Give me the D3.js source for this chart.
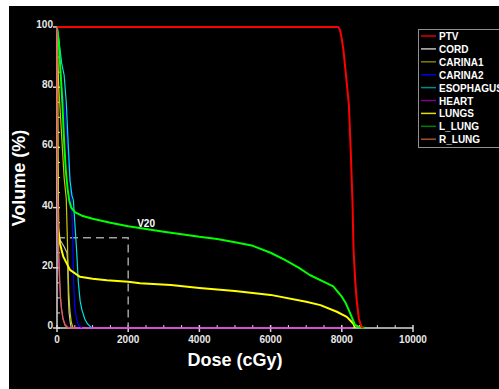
<!DOCTYPE html>
<html>
<head>
<meta charset="utf-8">
<script src="https://cdn.jsdelivr.net/npm/d3@7"></script>
<style>
  body { margin: 0; background: #fff; }
  svg { display: block; }
  text { font-family: "Liberation Sans", Arial, sans-serif; font-weight: bold; }
</style>
</head>
<body>
<div id="chart"></div>
<script>
// structures, in legend order
const structures = ["PTV", "CORD", "CARINA1", "CARINA2", "ESOPHAGUS", "HEART", "LUNGS", "L_LUNG", "R_LUNG"];

// dose (cGy), volume (%) pairs
const ptv = [[0,100],[7900,100],[7950,99],[8000,96],[8050,92],[8100,86],[8150,80],[8200,74],[8250,59],[8300,42],[8330,26],[8380,15],[8420,9],[8480,3],[8550,0.5],[8600,0]];
const cord = [[0,100],[5,60],[10,32],[30,30.5],[100,29],[200,27],[280,25],[300,22],[310,16],[320,10],[340,5],[370,2],[400,0]];
const carina1 = [[0,100],[20,90],[50,80],[100,70],[150,60],[200,50],[260,43],[290,30],[310,20],[330,12],[360,6],[400,2],[450,0]];
const carina2 = [[0,100],[30,97],[60,92],[100,85],[150,79],[225,71],[300,60],[365,49],[400,43],[430,35],[450,25],[470,15],[500,7],[550,3],[600,1],[700,0]];
const esophagus = [[0,100],[30,98],[80,93],[130,88],[200,84],[260,75],[320,60],[365,49],[420,44],[460,42.5],[500,35],[550,26],[600,15],[650,9],[700,6],[780,3],[850,1.5],[950,0.3],[1000,0]];
const heart = [[0,100],[5,70],[10,50],[20,40],[40,25],[60,18],[84,12.6],[110,8],[130,6],[170,3],[220,1.5],[280,0.5],[350,0],[8300,0]];
const lungs = [[0,100],[10,80],[20,55],[30,40],[40,33],[84,28],[177,23.7],[365,19.3],[646,17],[1000,16.4],[1400,15.9],[2000,15.4],[2330,14.9],[3200,14.3],[4000,13.3],[5000,12.3],[6000,11],[7000,8.7],[7400,7.6],[7860,5.4],[8140,3.7],[8320,1.5],[8370,0]];
const lLung = [[0,100],[50,95],[100,85],[150,75],[200,62],[250,52],[300,46],[350,42],[400,40],[500,38.5],[700,37.3],[1000,36.3],[1500,35],[2000,33.8],[3000,32],[4000,30.3],[4500,29.6],[5000,28.5],[5500,27.3],[6000,25],[6400,22.6],[6800,20],[7100,17.6],[7500,15.3],[7760,13.8],[8000,10.4],[8100,8.5],[8230,5],[8370,1],[8500,0.3],[8650,0]];
const rLung = [[0,100],[5,80],[10,60],[20,45],[30,35],[50,25],[70,18],[100,10],[130,6],[170,3],[220,1],[300,0],[500,0]];

const curves = {
  PTV: ptv, CORD: cord, CARINA1: carina1, CARINA2: carina2, ESOPHAGUS: esophagus,
  HEART: heart, LUNGS: lungs, L_LUNG: lLung, R_LUNG: rLung
};

const xTicks = [0, 2000, 4000, 6000, 8000, 10000];
const yTicks = [0, 20, 40, 60, 80, 100];
const v20 = { dose: 2000, volume: 30, label: "V20" };

const lineColors = ["#ff0000", "#c8c8c8", "#c8c800", "#0000ff", "#00e0e0", "#ff00ff", "#ffff00", "#00ff00", "#c87832"];
const legendColors = ["#e00000", "#c0c0c0", "#808000", "#0000e0", "#008c8c", "#800080", "#e0e000", "#008000", "#a0522d"];
const thick = ["PTV", "LUNGS", "L_LUNG"];
const drawOrder = ["CORD", "CARINA1", "CARINA2", "ESOPHAGUS", "LUNGS", "L_LUNG", "PTV", "HEART", "R_LUNG"];

const width = 499, height = 389;

const svg = d3.select("#chart").append("svg")
  .attr("width", width)
  .attr("height", height);

svg.append("rect")
  .attr("x", 9).attr("y", 6)
  .attr("width", width - 9).attr("height", height - 6)
  .attr("fill", "#000");

const x = d3.scaleLinear().domain([0, 10000]).range([57, 413]);
const y = d3.scaleLinear().domain([0, 100]).range([328, 27]);
const color = d3.scaleOrdinal().domain(structures).range(lineColors);
const legendColor = d3.scaleOrdinal().domain(structures).range(legendColors);

const axisColor = "#d8d8d8";

// x axis
svg.append("line")
  .attr("x1", x(0)).attr("x2", x(10000))
  .attr("y1", y(0)).attr("y2", y(0))
  .attr("stroke", axisColor).attr("stroke-width", 1.5);

svg.selectAll(".xminor")
  .data(d3.range(500, 10000, 500).filter(d => d % 2000 !== 0))
  .enter().append("line")
  .attr("x1", d => x(d)).attr("x2", d => x(d))
  .attr("y1", y(0)).attr("y2", y(0) - 3)
  .attr("stroke", axisColor);

svg.selectAll(".xmajor")
  .data(xTicks)
  .enter().append("line")
  .attr("x1", d => x(d)).attr("x2", d => x(d))
  .attr("y1", y(0) - 3).attr("y2", y(0) + 4)
  .attr("stroke", axisColor).attr("stroke-width", 1.5);

svg.selectAll(".xlabel")
  .data(xTicks)
  .enter().append("text")
  .attr("x", d => x(d))
  .attr("y", y(0) + 15)
  .attr("text-anchor", "middle")
  .attr("fill", "#e8e8e8")
  .attr("font-size", 10)
  .text(d => d);

// y axis
svg.append("line")
  .attr("x1", x(0)).attr("x2", x(0))
  .attr("y1", y(0)).attr("y2", y(100))
  .attr("stroke", axisColor).attr("stroke-width", 1.5);

svg.selectAll(".yminor")
  .data(d3.range(5, 100, 5).filter(d => d % 20 !== 0))
  .enter().append("line")
  .attr("x1", x(0)).attr("x2", x(0) + 3)
  .attr("y1", d => y(d)).attr("y2", d => y(d))
  .attr("stroke", axisColor);

svg.selectAll(".ymajor")
  .data(yTicks)
  .enter().append("line")
  .attr("x1", x(0) - 4).attr("x2", x(0) + 3)
  .attr("y1", d => y(d)).attr("y2", d => y(d))
  .attr("stroke", axisColor).attr("stroke-width", 1.5);

svg.selectAll(".ylabel")
  .data(yTicks)
  .enter().append("text")
  .attr("x", x(0) - 4)
  .attr("y", d => y(d) + 1)
  .attr("text-anchor", "end")
  .attr("fill", "#e8e8e8")
  .attr("font-size", 10)
  .text(d => d);

// axis titles
svg.append("text")
  .attr("x", 235).attr("y", 366)
  .attr("text-anchor", "middle")
  .attr("fill", "#fff")
  .attr("font-size", 18)
  .text("Dose (cGy)");

svg.append("text")
  .attr("transform", "translate(25,178) rotate(-90)")
  .attr("text-anchor", "middle")
  .attr("fill", "#fff")
  .attr("font-size", 18)
  .text("Volume (%)");

// V20 guide
svg.append("path")
  .attr("d", `M${x(0)},${y(v20.volume)}H${x(v20.dose)}V${y(0)}`)
  .attr("fill", "none")
  .attr("stroke", "#a0a0a0")
  .attr("stroke-width", 1.5)
  .attr("stroke-dasharray", "8,5");

svg.append("text")
  .attr("x", x(v20.dose) + 9).attr("y", y(34) + 1)
  .attr("fill", "#fff")
  .attr("font-size", 10)
  .text(v20.label);

// DVH curves
const line = d3.line().x(d => x(d[0])).y(d => y(d[1]));

svg.selectAll(".curve")
  .data(drawOrder)
  .enter().append("path")
  .attr("d", k => line(curves[k]))
  .attr("fill", "none")
  .attr("stroke", k => color(k))
  .attr("stroke-width", k => thick.includes(k) ? 2 : 1.2)
  .attr("stroke-linejoin", "round");

// legend
const lg = svg.append("g").attr("transform", "translate(418,29)");
lg.append("rect")
  .attr("x", 0.5).attr("y", 0.5)
  .attr("width", 100).attr("height", 118)
  .attr("fill", "#000")
  .attr("stroke", "#909090");

const rows = lg.selectAll(".row")
  .data(structures)
  .enter().append("g")
  .attr("transform", (d, i) => `translate(0,${7 + i * 12.9})`);

rows.append("line")
  .attr("x1", 3).attr("x2", 18)
  .attr("y1", 0).attr("y2", 0)
  .attr("stroke", d => legendColor(d))
  .attr("stroke-width", 1.5);

rows.append("text")
  .attr("x", 21).attr("y", 4)
  .attr("fill", "#fff")
  .attr("font-size", 10)
  .text(d => d);
</script>
</body>
</html>
